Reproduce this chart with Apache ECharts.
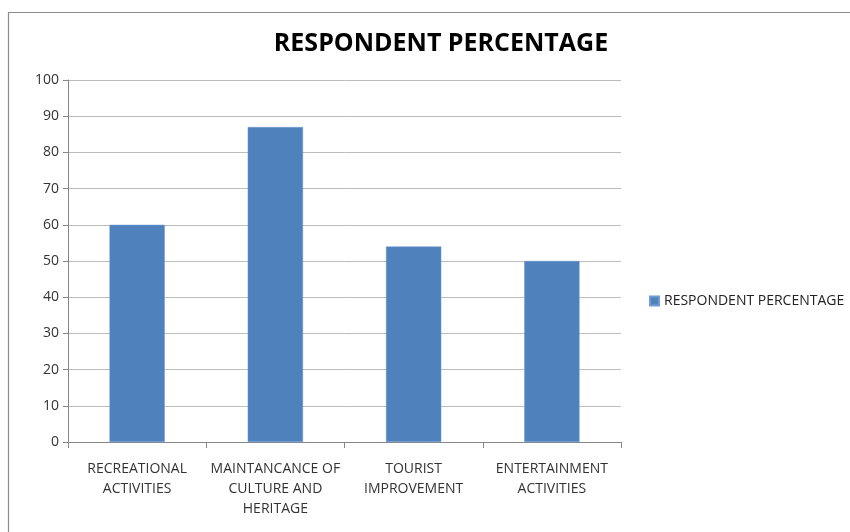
<!DOCTYPE html>
<html>
<head>
<meta charset="utf-8">
<script src="https://cdn.jsdelivr.net/npm/echarts@6/dist/echarts.min.js"></script>
<style>html,body{margin:0;padding:0;background:#fff;}#c{width:850px;height:532px;}</style>
</head>
<body>
<div id="c"></div>
<script>
var categories = ['RECREATIONAL\nACTIVITIES', 'MAINTANCANCE OF\nCULTURE AND\nHERITAGE', 'TOURIST\nIMPROVEMENT', 'ENTERTAINMENT\nACTIVITIES'];
var values = [60, 87, 54, 50];
var seriesName = 'RESPONDENT PERCENTAGE';
var titleText = 'RESPONDENT PERCENTAGE';

var narrow = '"Liberation Sans Narrow", "Open Sans", "Liberation Sans", sans-serif';
var chart = echarts.init(document.getElementById('c'));
chart.setOption({
  animation: false,
  backgroundColor: '#fff',
  graphic: [{
    type: 'rect', left: 6, top: 10, shape: {width: 860, height: 540},
    style: {fill: 'none', stroke: '#8c8c8c', lineWidth: 1.2}, silent: true
  }],
  title: {
    text: titleText, left: 436, top: 26, textAlign: 'center',
    textStyle: {fontFamily: narrow, fontWeight: 'bold', fontSize: 25, color: '#000'}
  },
  legend: {
    data: [seriesName], left: 644, top: 289, icon: 'rect', itemWidth: 9, itemHeight: 9, itemGap: 4,
    textStyle: {fontFamily: narrow, fontSize: 14, color: '#222'}
  },
  grid: {left: 68, right: 229, top: 80, bottom: 90},
  xAxis: {
    type: 'category', data: categories,
    axisLine: {lineStyle: {color: '#868686'}},
    axisTick: {show: true, alignWithLabel: false, length: 6, lineStyle: {color: '#868686'}},
    axisLabel: {interval: 0, margin: 17, lineHeight: 20, fontFamily: narrow, fontSize: 14, color: '#333'}
  },
  yAxis: {
    type: 'value', min: 0, max: 100, interval: 10,
    axisLine: {show: true, lineStyle: {color: '#868686'}},
    axisTick: {show: true, length: 5, lineStyle: {color: '#868686'}},
    splitLine: {lineStyle: {color: '#bcbcbc'}},
    axisLabel: {margin: 9, fontFamily: narrow, fontSize: 14, color: '#333'}
  },
  series: [{
    name: seriesName, type: 'bar', data: values, barWidth: '40%',
    itemStyle: {color: '#4f81bd', borderColor: '#6f9bd0', borderWidth: 0.5}
  }]
});
</script>
</body>
</html>
